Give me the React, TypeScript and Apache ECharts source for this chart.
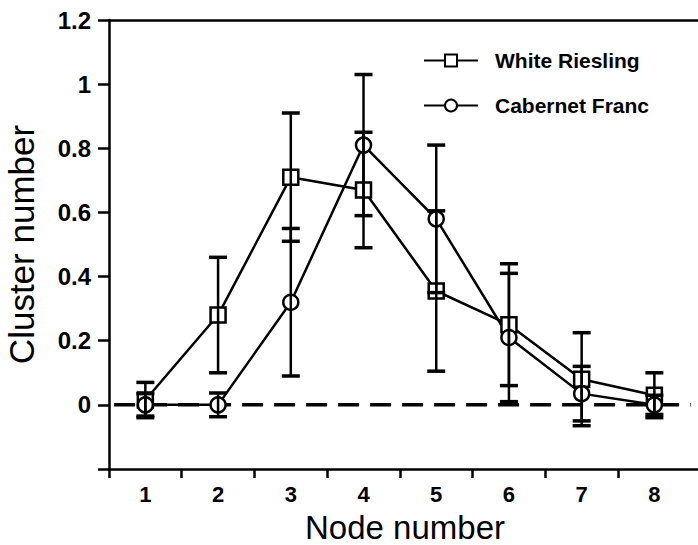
import React, { useEffect, useRef } from "react";
import * as echarts from "echarts";

const nodes = [1, 2, 3, 4, 5, 6, 7, 8];
const whiteRiesling = [0.015, 0.28, 0.71, 0.67, 0.355, 0.25, 0.08, 0.03];
const whiteRieslingErr = [0.055, 0.18, 0.2, 0.18, 0.25, 0.19, 0.145, 0.07];
const cabernetFranc = [0.0, 0.0, 0.32, 0.81, 0.58, 0.21, 0.035, 0.0];
const cabernetFrancErr = [0.035, 0.037, 0.23, 0.22, 0.23, 0.2, 0.085, 0.03];
const xTicks = [0.5, 1.5, 2.5, 3.5, 4.5, 5.5, 6.5, 7.5];
const xRange = [0.5, 8.6];
const zeroLine = [0.57, 8.5];

const FONT = "Liberation Sans, Arial, Helvetica, sans-serif";

function errData(vals: number[], errs: number[]) {
  return nodes.map((n, i) => [n, vals[i] - errs[i], vals[i] + errs[i]]);
}

function renderErr(params: any, api: any) {
  const x = api.value(0);
  const lo = api.coord([x, api.value(1)]);
  const hi = api.coord([x, api.value(2)]);
  const w = 9;
  const s = { stroke: "#000", lineWidth: 2.5 };
  const c = { stroke: "#000", lineWidth: 3.5 };
  return {
    type: "group",
    children: [
      { type: "line", shape: { x1: lo[0], y1: lo[1], x2: hi[0], y2: hi[1] }, style: s },
      { type: "line", shape: { x1: lo[0] - w, y1: lo[1], x2: lo[0] + w, y2: lo[1] }, style: c },
      { type: "line", shape: { x1: hi[0] - w, y1: hi[1], x2: hi[0] + w, y2: hi[1] }, style: c },
    ],
  };
}

export default function App() {
  const ref = useRef<HTMLDivElement>(null);
  useEffect(() => {
    if (!ref.current) return;
    const chart = echarts.init(ref.current, null, { renderer: "svg" });
    const lineCommon = {
      type: "line",
      symbolSize: 15,
      lineStyle: { color: "#000", width: 2.5 },
      itemStyle: { color: "#fff", borderColor: "#000", borderWidth: 2.5 },
      z: 3,
    };
    chart.setOption({
      animation: false,
      backgroundColor: "#fff",
      textStyle: { fontFamily: FONT },
      title: {
        text: "Node number",
        left: 405,
        top: 511,
        textAlign: "center",
        padding: 0,
        textStyle: { fontFamily: FONT, fontSize: 33, lineHeight: 32, fontWeight: "normal", color: "#000" },
      },
      grid: { left: 109, right: 0, top: 20, bottom: 76, outerBoundsMode: "none", containLabel: false },
      legend: {
        orient: "vertical",
        left: 418,
        top: 45,
        itemWidth: 54,
        itemHeight: 15,
        itemGap: 24,
        data: ["White Riesling", "Cabernet Franc"],
        textStyle: { fontFamily: FONT, fontSize: 21, fontWeight: "bold", color: "#000", padding: [0, 0, 0, 12] },
      },
      xAxis: [
        {
          type: "value",
          min: xRange[0],
          max: xRange[1],
          axisLine: { show: true, onZero: false, lineStyle: { color: "#000", width: 2.5 } },
          axisTick: { show: true, customValues: xTicks, length: 9, lineStyle: { color: "#000", width: 2.5 } },
          axisLabel: {
            customValues: nodes,
            margin: 14,
            fontFamily: FONT,
            fontSize: 22,
            lineHeight: 22,
            fontWeight: "bold",
            color: "#000",
          },
          splitLine: { show: false },
        },
        {
          type: "value",
          position: "top",
          min: xRange[0],
          max: xRange[1],
          axisLine: { show: true, onZero: false, lineStyle: { color: "#000", width: 2.5 } },
          axisTick: { show: false },
          axisLabel: { show: false },
          splitLine: { show: false },
        },
      ],
      yAxis: {
        type: "value",
        min: -0.2,
        max: 1.2,
        interval: 0.2,
        name: "Cluster number",
        nameLocation: "middle",
        nameGap: 70,
        nameTextStyle: { fontFamily: FONT, fontSize: 35, color: "#000" },
        axisLine: { show: true, onZero: false, lineStyle: { color: "#000", width: 2.5 } },
        axisTick: { show: true, length: 11, lineStyle: { color: "#000", width: 2.5 } },
        axisLabel: {
          margin: 18,
          fontFamily: FONT,
          fontSize: 24,
          fontWeight: "bold",
          color: "#000",
          formatter: (v: number) => (v < -0.01 ? "" : String(Math.round(v * 10) / 10)),
        },
        splitLine: { show: false },
      },
      series: [
        {
          type: "line",
          name: "zero",
          data: zeroLine.map((x) => [x, 0]),
          symbol: "none",
          silent: true,
          lineStyle: { color: "#000", width: 3.5, type: [21, 11] },
          z: 1,
        },
        {
          ...lineCommon,
          name: "White Riesling",
          symbol: "rect",
          data: nodes.map((n, i) => [n, whiteRiesling[i]]),
        },
        {
          ...lineCommon,
          name: "Cabernet Franc",
          symbol: "circle",
          data: nodes.map((n, i) => [n, cabernetFranc[i]]),
        },
        {
          type: "custom",
          name: "WR error",
          renderItem: renderErr,
          data: errData(whiteRiesling, whiteRieslingErr),
          z: 4,
        },
        {
          type: "custom",
          name: "CF error",
          renderItem: renderErr,
          data: errData(cabernetFranc, cabernetFrancErr),
          z: 4,
        },
      ],
    });
    return () => chart.dispose();
  }, []);
  return (
    <div
      ref={ref}
      style={{ position: "fixed", left: 0, top: 0, width: 698, height: 545 }}
    />
  );
}
